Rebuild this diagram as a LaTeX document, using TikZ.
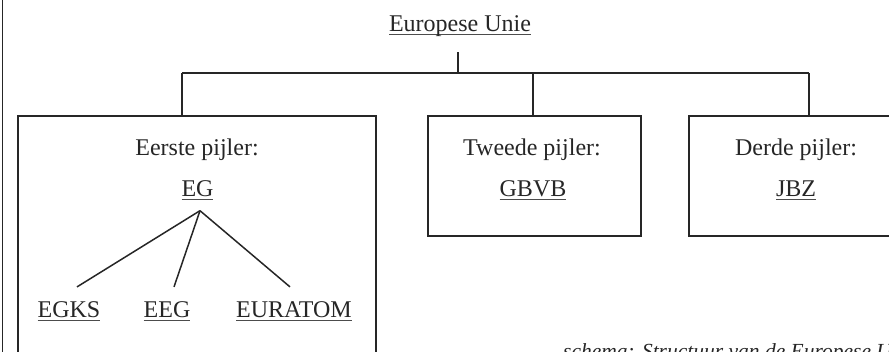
\documentclass[tikz,border=0pt]{standalone}
\usepackage{fontspec}
\setmainfont{Liberation Serif}
\newcommand\myul[1]{\setbox0\hbox{#1}\rlap{\textcolor{black!70}{\rule[-3.5pt]{\wd0}{1.1pt}}}\box0}
\begin{document}
\begin{tikzpicture}[x=1pt,y=-1pt,
  lbl/.style={inner sep=0pt, anchor=base, font=\fontsize{24}{28}\selectfont, text=black!85},
  pillar/.style={draw=black!85, line width=2.2pt, anchor=north west, inner sep=0pt},
  conn/.style={draw=black!85, line width=1.8pt}]
\useasboundingbox (0,0) rectangle (889,352);
\clip (0,0) rectangle (889,352);
% left edge rule
\coordinate (edgeT) at (2.5,0);
\coordinate (edgeB) at (2.5,352);
\draw[conn] (edgeT) -- (edgeB);
% top
\node[lbl] (eu) at (460,32) {\myul{Europese Unie}};
% pillar boxes
\node[pillar, minimum width=358pt, minimum height=300pt] (p1) at (17,115) {};
\node[pillar, minimum width=213pt, minimum height=120pt] (p2) at (427,115) {};
\node[pillar, minimum width=260pt, minimum height=120pt] (p3) at (688,115) {};
% bar
\coordinate (j0) at (458,73);
\coordinate (jl) at (182,73);
\coordinate (jm) at (533,73);
\coordinate (jr) at (809,73);
\draw[conn] ([shift={(-2,15)}]eu.south) -- (j0);
\draw[conn] (jl) -- (jr);
\draw[conn] (jl) -- (jl |- p1.north);
\draw[conn] (jm) -- (jm |- p2.north);
\draw[conn] (jr) -- (jr |- p3.north);
% texts
\node[lbl] (t1) at (197,156) {Eerste pijler:};
\node[lbl] (eg) at (197.5,197) {\myul{EG}};
\node[lbl] (t2) at (532,156) {Tweede pijler:};
\node[lbl] (gbvb) at (533,197) {\myul{GBVB}};
\node[lbl] (t3) at (796,156) {Derde pijler:};
\node[lbl] (jbz) at (796,197) {\myul{JBZ}};
\node[lbl] (egks) at (69,318) {\myul{EGKS}};
\node[lbl] (eeg) at (167,318) {\myul{EEG}};
\node[lbl] (eur) at (294,318) {\myul{EURATOM}};
% tree
\coordinate (egb) at ([shift={(2.5,10)}]eg.south);
\draw[conn, line width=1.5pt] (egb) -- ([shift={(8,-15)}]egks.north);
\draw[conn, line width=1.5pt] (egb) -- ([shift={(7,-15)}]eeg.north);
\draw[conn, line width=1.5pt] (egb) -- ([shift={(-4,-15)}]eur.north);
% caption (cut off by the picture's edge, as in the reference)
\node[lbl, anchor=base west, font=\fontsize{21.5}{26}\selectfont\itshape] (cap) at (563,359) {schema: Structuur van de Europese Unie};
\end{tikzpicture}
\end{document}
